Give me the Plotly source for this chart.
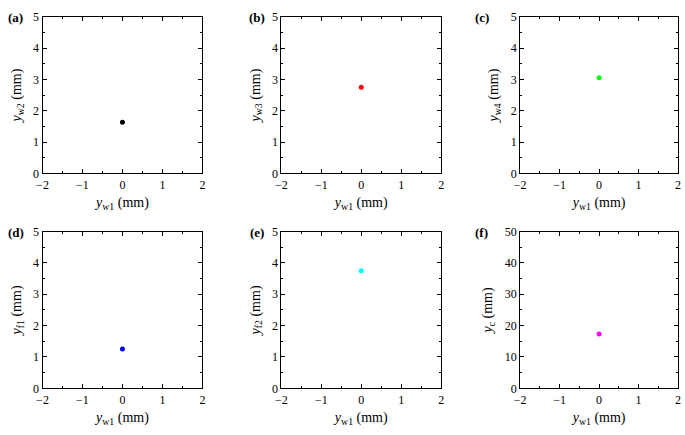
import plotly.graph_objects as go

panel_labels = ["(a)", "(b)", "(c)", "(d)", "(e)", "(f)"]
y_titles = ["w2", "w3", "w4", "f1", "f2", "c"]
x_vals = [0, 0, 0, 0, 0, 0]
y_vals = [1.63, 2.75, 3.05, 1.25, 3.75, 17.3]
colors = ["#000000", "#ff0000", "#00ff00", "#0000ff", "#00ffff", "#ff00ff"]
y_max = [5, 5, 5, 5, 5, 50]
y_dtick = [1, 1, 1, 1, 1, 10]
x_ticks = [-2, -1, 0, 1, 2]

W, H = 685, 435
xdom_px = [(37, 199), (279, 441), (521, 681)]
ydom_px = [(10, 172), (232, 394)]

FONT = "Liberation Serif"
fig = go.Figure()
for i in range(6):
    r, c = divmod(i, 3)
    n = "" if i == 0 else str(i + 1)
    x0, x1 = xdom_px[c]
    y0, y1 = ydom_px[r]
    fig.add_trace(go.Scatter(
        x=[x_vals[i]], y=[y_vals[i]], mode="markers",
        marker=dict(color=colors[i], size=5),
        xaxis="x" + n, yaxis="y" + n, showlegend=False))
    common = dict(showline=True, linecolor="black", linewidth=1, mirror="allticks",
                  ticks="inside", ticklen=4, tickcolor="black", showgrid=False,
                  zeroline=False, ticklabeloverflow="allow",
                  tickfont=dict(family=FONT, size=12, color="black"))
    fig.layout["xaxis" + n] = dict(
        common, domain=[x0 / W, x1 / W], anchor="y" + n, range=[-2, 2],
        tickvals=x_ticks, ticktext=[("−" + str(-v)) if v < 0 else str(v) for v in x_ticks],
        minor=dict(ticks="inside", dtick=0.5, ticklen=2, tickcolor="black"),
        title=dict(text="<i>y</i><sub>w1</sub> (mm)", font=dict(family=FONT, size=14, color="black"), standoff=6))
    fig.layout["yaxis" + n] = dict(
        common, domain=[1 - y1 / H, 1 - y0 / H], anchor="x" + n, range=[0, y_max[i]],
        dtick=y_dtick[i], tick0=0,
        minor=dict(ticks="inside", dtick=y_dtick[i] / 2, ticklen=2, tickcolor="black"),
        title=dict(text="<i>y</i><sub>" + y_titles[i] + "</sub> (mm)", font=dict(family=FONT, size=14, color="black"), standoff=8))
    lx = {0: 10, 1: 254, 2: 482}[c]
    fig.add_annotation(text="<b>" + panel_labels[i] + "</b>", x=lx / W, y=1 - (y0 + 1) / H,
                       xref="paper", yref="paper", showarrow=False, xanchor="center", yanchor="middle",
                       font=dict(family=FONT, size=13, color="black"))

fig.update_layout(width=W, height=H, margin=dict(l=0, r=0, t=0, b=0),
                  font=dict(family=FONT),
                  plot_bgcolor="white", paper_bgcolor="white")
fig.write_html("out.html", config={"displayModeBar": False},
               post_script="document.body.style.margin='0';document.body.style.padding='0';")
